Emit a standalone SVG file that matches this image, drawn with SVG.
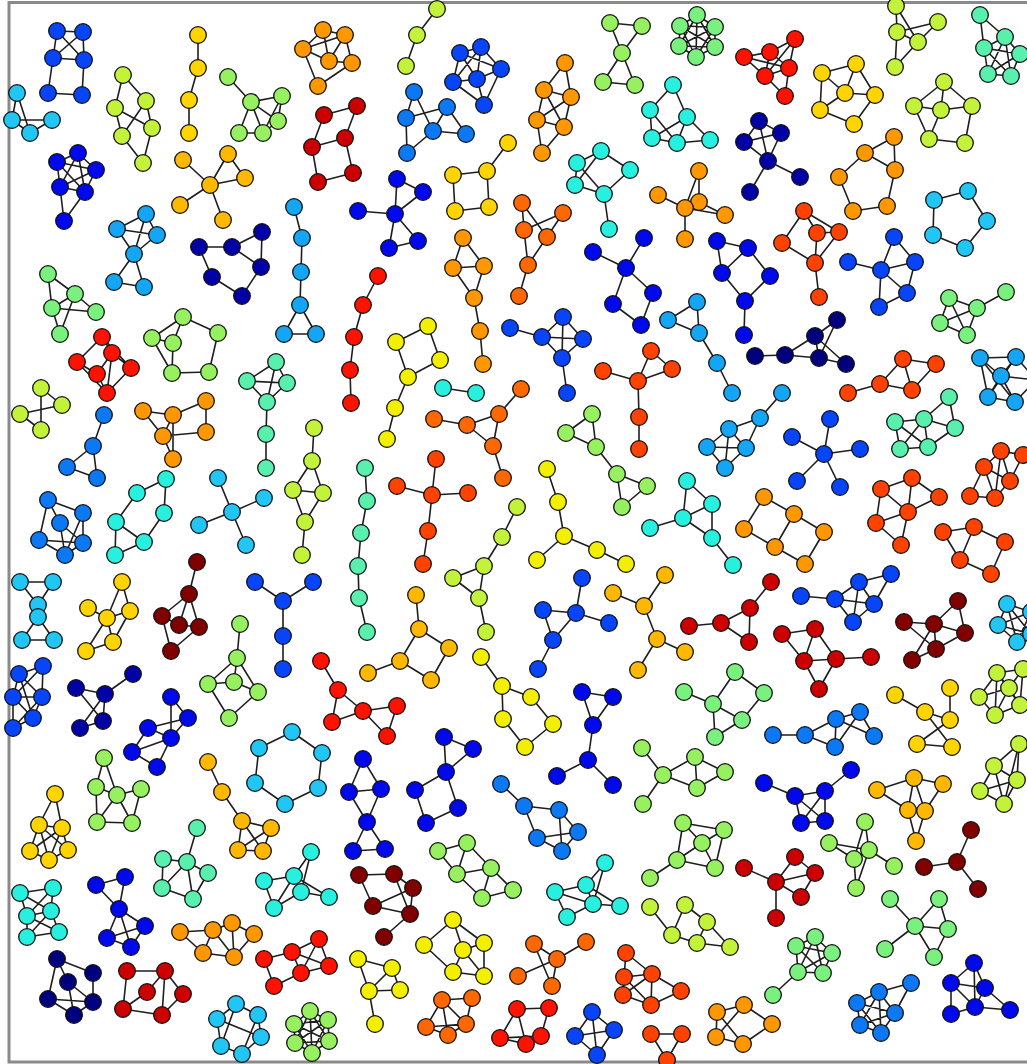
<svg xmlns="http://www.w3.org/2000/svg" width="1027" height="1064" viewBox="0 0 1027 1064">
<style>
.e path{stroke:#1e1e1e;stroke-width:1.6;fill:none;stroke-linecap:round;stroke-linejoin:round}
.n circle{stroke:#111;stroke-width:1.3}
.k0{fill:#00007e}.k1{fill:#0000a6}.k2{fill:#0008ec}.k3{fill:#0844f8}.k4{fill:#0c78f4}.k5{fill:#14a6f4}.k6{fill:#22c6f4}.k7{fill:#28f0de}.k8{fill:#58f0ac}.k9{fill:#7af07e}.k10{fill:#96f060}.k11{fill:#c2f23a}.k12{fill:#f2f000}.k13{fill:#ffd400}.k14{fill:#ffb800}.k15{fill:#ff9800}.k16{fill:#ff6800}.k17{fill:#ff4200}.k18{fill:#ff1200}.k19{fill:#cc0000}.k20{fill:#800000}
</style>
<rect width="1027" height="1064" fill="#fff"/>
<rect x="9" y="2.5" width="1040" height="1059.5" fill="none" stroke="#8a8a8a" stroke-width="3"/>
<g id="connectors" class="e">
<path d="M57 31L83 32M57 31L53 58M83 32L84 60M57 31L84 60M83 32L53 58M53 58L84 60M53 58L48 93M84 60L82 95M48 93L82 95"/>
<path d="M17 93L12 120M17 93L30 133M12 120L52 120M30 133L52 120M12 120L30 133"/>
<path d="M123 75L115 108M123 75L146 101M115 108L122 136M115 108L152 128M146 101L122 136M146 101L152 128M122 136L143 163M152 128L143 163"/>
<path d="M198 35L198 68L189 100L189 133"/>
<path d="M228 77L251 102L282 96M251 102L278 121M251 102L263 133M251 102L239 133M282 96L278 121L263 133L239 133M282 96L263 133"/>
<path d="M323 30L303 49M323 30L345 35M323 30L329 61M303 49L318 86M303 49L329 61M303 49L345 35M329 61L352 63M345 35L352 63M318 86L352 63M329 61L345 35"/>
<path d="M324 115L357 106M324 115L312 147M357 106L345 138M312 147L345 138M312 147L318 182M345 138L353 173M318 182L353 173"/>
<path d="M210 185L183 160M210 185L228 154M210 185L245 178M210 185L180 205M210 185L223 220M228 154L245 178"/>
<path d="M78 153L57 162M78 153L96 170M78 153L60 187M78 153L85 192M57 162L96 170M57 162L60 187M57 162L85 192M96 170L60 187M96 170L85 192M60 187L85 192M60 187L64 221M85 192L64 221"/>
<path d="M146 214L117 229M146 214L157 235M146 214L134 254M117 229L157 235M117 229L134 254M157 235L134 254M134 254L114 282M134 254L144 287M114 282L144 287"/>
<path d="M199 247L232 247L262 232L261 267M232 247L261 267M199 247L212 277L242 296L261 267"/>
<path d="M294 207L302 238L301 272L300 305L284 334L316 334L300 305"/>
<path d="M48 274L75 294M48 274L52 308M75 294L52 308M75 294L96 312M52 308L96 312M52 308L60 334M75 294L60 334"/>
<path d="M183 317L152 338M183 317L173 343M183 317L218 333M152 338L172 373M218 333L209 372M172 373L209 372M173 343L152 338M173 343L172 373"/>
<path d="M102 337L77 362M102 337L112 353M102 337L131 368M77 362L97 374M112 353L131 368M112 353L97 374M97 374L107 393M131 368L107 393M77 362L107 393M112 353L107 393"/>
<path d="M276 362L247 381M276 362L287 383M247 381L287 383M276 362L267 402M247 381L267 402M287 383L267 402M267 402L266 434L266 468"/>
<path d="M437 9L417 35L406 66"/>
<path d="M460 53L481 47M460 53L453 82M460 53L477 79M460 53L501 69M481 47L501 69M481 47L477 79M481 47L453 82M501 69L477 79M501 69L484 105M453 82L477 79M453 82L484 105M477 79L484 105"/>
<path d="M414 92L406 118M414 92L433 131M406 118L447 107M406 118L407 153M447 107L433 131M447 107L466 134M433 131L466 134M433 131L407 153"/>
<path d="M565 63L544 90M565 63L571 97M544 90L571 97M544 90L537 120M544 90L564 127M571 97L537 120M571 97L564 127M537 120L564 127M537 120L542 153M564 127L542 153"/>
<path d="M610 23L642 26L622 53L610 23M622 53L603 82L635 85L622 53"/>
<path d="M673 85L650 110M673 85L687 117M650 110L652 138M650 110L677 143M687 117L652 138M687 117L677 143M687 117L710 140M652 138L677 143M677 143L710 140"/>
<path d="M577 163L601 151L630 170L604 194L577 163M601 151L575 185L604 194L609 229M577 163L575 185"/>
<path d="M508 143L487 171L453 175L455 211L489 207L487 171"/>
<path d="M397 179L423 192L395 214L397 179M358 211L395 214L389 248L418 241L395 214"/>
<path d="M522 203L524 230M522 203L547 237M563 213L524 230M563 213L547 237M524 230L528 265M547 237L528 265L519 296"/>
<path d="M463 238L453 268L484 266L463 238M453 268L474 298L484 266M474 298L480 331L483 364"/>
<path d="M378 276L363 305L354 337L350 370L351 403"/>
<path d="M428 326L396 342L408 377L440 360L428 326M408 377L395 408L387 439"/>
<path d="M510 328L542 337L563 317L583 339L562 358L542 337M563 317L562 358M542 337L583 339M562 358L567 393"/>
<path d="M593 252L626 268L644 238M626 268L653 293L641 325L613 304L626 268"/>
<path d="M658 195L685 208L699 202L699 171L685 208L725 215L699 202M685 208L685 239"/>
<path d="M697 15L715 27M697 15L715 47M697 15L696 57M697 15L679 46M697 15L680 26M715 27L715 47M715 27L696 57M715 27L679 46M715 27L680 26M715 47L696 57M715 47L679 46M715 47L680 26M696 57L679 46M696 57L680 26M679 46L680 26"/>
<path d="M795 39L770 52M795 39L789 68M795 39L765 76M770 52L744 57M770 52L789 68M770 52L765 76M744 57L765 76M789 68L765 76M789 68L785 96M765 76L785 96M744 57L789 68"/>
<path d="M822 73L856 64L875 95L854 124L820 110L822 73M822 73L845 93M856 64L845 93M845 93L875 95M845 93L820 110"/>
<path d="M896 6L897 32M896 6L918 42M897 32L938 22L918 42L897 32L895 67L918 42"/>
<path d="M980 15L1005 37M980 15L984 48M1005 37L984 48M1005 37L1020 54M1005 37L988 74M1005 37L1011 76M984 48L1020 54M984 48L988 74M984 48L1011 76M1020 54L1011 76M1020 54L988 74M988 74L1011 76"/>
<path d="M944 82L914 106L941 110L944 82L972 106L941 110M914 106L929 139L941 110M972 106L965 143L929 139"/>
<path d="M759 121L744 142L781 133L759 121L768 161L744 142M781 133L768 161L800 177M768 161L750 192"/>
<path d="M894 137L865 153L895 170L894 137M865 153L839 177L853 211L887 206L895 170"/>
<path d="M968 191L934 200L933 235L965 248L987 221Z"/>
<path d="M804 211L782 243L815 263M804 211L817 233L839 232L804 211M817 233L815 263L839 232M815 263L819 297"/>
<path d="M717 241L748 248L722 273L717 241M748 248L770 276L745 301L722 273M745 301L744 335"/>
<path d="M894 237L881 270L848 262M894 237L915 262L881 270L907 293L915 262M881 270L879 307L907 293"/>
<path d="M1006 292L977 308L949 298L940 323L967 335L977 308L940 323M949 298L967 335"/>
<path d="M697 302L668 320L699 333L697 302M699 333L717 363L732 393"/>
<path d="M755 356L785 355L819 358L846 364L815 336L837 320L819 358L815 336L785 355"/>
<path d="M41 388L62 405L20 414L41 430L41 388"/>
<path d="M104 415L93 446L67 467L97 478L93 446"/>
<path d="M143 411L173 415L206 401L206 432L163 436L143 411M173 415L163 436L173 459L173 415"/>
<path d="M314 428L312 461L293 490L323 493L312 461M293 490L305 522L323 493M305 522L302 555"/>
<path d="M48 500L83 513L83 543L65 555L39 540L48 500L60 523L83 543M60 523L65 555M39 540L83 543M83 513L65 555"/>
<path d="M166 479L137 493L116 522L115 555L144 542L164 513L166 479M116 522L144 542"/>
<path d="M232 512L218 478M232 512L264 498M232 512L199 525M232 512L246 545"/>
<path d="M20 582L53 582L38 605L20 582M38 605L38 617L22 640L54 640L38 617"/>
<path d="M122 582L107 618L88 608M122 582L130 611L107 618L113 642L130 611M113 642L86 651L107 618"/>
<path d="M197 562L189 594L162 616L179 625L199 627L189 594L179 625M162 616L171 651L199 627"/>
<path d="M255 582L283 601L313 582M283 601L283 636L283 669"/>
<path d="M240 624L237 658L208 684L229 718L258 692L237 658L234 682L208 684M234 682L258 692"/>
<path d="M321 661L338 690L363 711L397 706L387 736L363 711L332 722L338 690"/>
<path d="M43 666L19 674L13 697L42 697L43 666L13 697M19 674L42 697M19 674L33 718L13 697M42 697L33 718L13 728L13 697M42 697L13 728"/>
<path d="M133 674L105 694L76 688L103 721L105 694L80 728L103 721"/>
<path d="M171 697L171 738L188 718L171 697M188 718L148 728L171 738L157 767L132 752L148 728M171 738L132 752"/>
<path d="M443 388L476 393"/>
<path d="M434 419L467 425L499 414L521 389M467 425L493 446L499 414M493 446L503 478"/>
<path d="M436 459L432 495L397 486M432 495L468 493M432 495L428 531L423 564"/>
<path d="M365 468L367 501L361 533L358 566L359 598L367 632"/>
<path d="M517 507L502 537L484 566L453 578L479 598L484 566M479 598L486 632"/>
<path d="M547 469L558 502L564 536L537 560M564 536L597 550L626 564"/>
<path d="M416 595L419 629L449 648L431 680L400 661L419 629M400 661L368 673"/>
<path d="M582 578L576 613L543 610L553 640L576 613L609 623M553 640L538 669"/>
<path d="M665 575L644 606L613 593M644 606L657 639L638 670M657 639L685 652"/>
<path d="M481 657L502 686L531 697L553 724L525 747L503 719L502 686"/>
<path d="M582 692L613 697L593 725L582 692M593 725L588 760L557 776M588 760L613 785"/>
<path d="M903 359L936 364L912 390L880 384L903 359L912 390M880 384L848 393"/>
<path d="M980 358L1016 357L1036 380L1015 402L988 397L980 358M980 358L1001 376M1016 357L1001 376M1001 376L988 397M1001 376L1015 402M1001 376L1036 380M980 358L1015 402M1016 357L988 397"/>
<path d="M782 393L760 418L729 429L707 447L725 468L746 448L760 418M729 429L746 448M729 429L725 468M707 447L746 448"/>
<path d="M824 454L830 419M824 454L792 437M824 454L860 449M824 454L797 481M824 454L840 487"/>
<path d="M949 397L924 419L895 422L900 449L928 447L955 428L949 397M924 419L955 428M924 419L900 449M924 419L928 447M895 422L928 447"/>
<path d="M1001 451L1023 455L1010 481L995 498L970 496L984 467L1001 451L1010 481L984 467L995 498M1001 451L995 498"/>
<path d="M687 481L712 504L712 538L683 518L687 481M712 504L683 518L650 528M712 538L733 565"/>
<path d="M764 497L744 529L775 547L805 564L824 532L794 514L764 497M794 514L775 547"/>
<path d="M912 478L881 489L876 523L901 545L908 512L912 478L939 497L908 512L881 489M908 512L876 523"/>
<path d="M943 532L974 527L1005 542L991 574L960 560L943 532M974 527L960 560"/>
<path d="M771 582L750 608L721 623L749 642L750 608M721 623L689 626"/>
<path d="M891 574L859 582L835 599L853 622L874 604L891 574M859 582L874 604M859 582L853 622M835 599L874 604M801 596L835 599"/>
<path d="M782 634L815 629L836 659L871 657M782 634L804 661L836 659L819 689L804 661M815 629L804 661"/>
<path d="M958 601L934 624L904 622L936 649L912 660L934 624L965 633L958 601M934 624L936 649L965 633"/>
<path d="M1007 604L998 625L1017 642L1031 634L1031 612L1007 604M1007 604L1017 642M1007 604L1031 634M998 625L1031 612M998 625L1031 634M1017 642L1031 612"/>
<path d="M735 672L713 704L684 692M735 672L764 693L742 720L715 737L713 704L742 720"/>
<path d="M895 695L925 712L952 747L917 744L950 720L950 688M925 712L950 720"/>
<path d="M997 673L1023 669M997 673L979 697M997 673L1009 688M997 673L995 715M1023 669L1009 688M1023 669L1020 705M979 697L1009 688M979 697L995 715M1009 688L1020 705M1009 688L995 715M1020 705L995 715M997 673L1020 705"/>
<path d="M292 732L322 753L318 788L285 804L255 783L259 748Z"/>
<path d="M104 758L96 787L97 822L132 823L141 789L117 795L104 758M96 787L117 795L97 822M117 795L132 823"/>
<path d="M55 794L39 825L62 828L55 794M39 825L30 851L49 860L68 850L62 828L30 851M39 825L49 860M39 825L68 850M62 828L49 860"/>
<path d="M208 762L222 792L242 821L271 828L263 851L238 850L242 821L263 851M271 828L238 850"/>
<path d="M197 828L187 862L163 859L162 888L193 899L208 873L187 862L162 888M187 862L193 899"/>
<path d="M311 852L294 876L264 881L274 908L301 892L329 897L294 876L274 908M311 852L301 892L294 876"/>
<path d="M20 893L53 888M20 893L27 916M20 893L51 911M53 888L27 916M53 888L51 911M27 916L51 911M27 916L27 937M27 916L59 932M51 911L27 937M51 911L59 932M27 937L59 932"/>
<path d="M96 885L125 877L119 909L96 885M119 909L145 926L131 947L107 938L119 909L131 947M107 938L145 926"/>
<path d="M180 932L213 930L232 923L254 934L234 957L203 953L180 932M213 930L203 953M213 930L234 957M232 923L234 957"/>
<path d="M319 939L292 952L264 959L274 986L301 973L329 966L319 939L301 973L292 952L329 966"/>
<path d="M57 959L93 973L93 1002L74 1015L48 999L57 959L68 982L74 1015M68 982L93 1002M48 999L93 1002"/>
<path d="M127 971L165 971L183 994L162 1015L123 1009L127 971M165 971L147 992L123 1009M165 971L162 1015"/>
<path d="M236 1004L258 1015L261 1037L242 1054L221 1046L217 1019L236 1004M236 1004L221 1046M258 1015L242 1054M217 1019L261 1037"/>
<path d="M310 1011L328 1020M310 1011L294 1024M310 1011L329 1041M310 1011L295 1043M310 1011L312 1053M328 1020L294 1024M328 1020L329 1041M328 1020L295 1043M328 1020L312 1053M294 1024L329 1041M294 1024L295 1043M294 1024L312 1053M329 1041L295 1043M329 1041L312 1053M295 1043L312 1053"/>
<path d="M642 748L663 775L643 804M663 775L695 757L725 772L697 788L663 775M695 757L697 788"/>
<path d="M363 759L349 792L381 789L363 759M349 792L367 822L381 789M367 822L353 851L385 849L367 822"/>
<path d="M444 737L473 749L446 772L444 737M446 772L415 790L426 823L458 808L446 772"/>
<path d="M501 784L524 806L559 810L578 832L562 851L537 838L524 806M559 810L562 851M537 838L578 832"/>
<path d="M438 851L467 843L491 868L513 890L482 898L457 874L438 851M467 843L457 874L491 868L482 898"/>
<path d="M359 875L394 874L413 888L410 914L384 937M359 875L373 906L413 888M394 874L410 914M373 906L410 914"/>
<path d="M605 863L586 885L555 892L567 917L593 904L620 906L586 885L593 904L605 863M555 892L593 904"/>
<path d="M453 920L424 945L453 972L484 976L484 943L453 920L463 950L484 943M463 950L453 972M463 950L484 976"/>
<path d="M358 959L392 968L400 990L369 991L358 959M392 968L369 991L375 1024"/>
<path d="M534 944L557 959L586 942M557 959L518 976M557 959L552 986M534 944L552 986"/>
<path d="M442 1000L472 998L466 1024L448 1035L426 1027L442 1000L466 1024L426 1027M442 1000L448 1035"/>
<path d="M517 1009L549 1008L541 1036L526 1044L500 1038L517 1009L526 1044M500 1038L541 1036"/>
<path d="M592 1012L614 1030L597 1055L575 1036L592 1012L597 1055M575 1036L614 1030"/>
<path d="M626 953L624 977L623 995L651 1005L681 991L652 974L626 953M624 977L652 974L651 1005M623 995L652 974M624 977L651 1005"/>
<path d="M651 1034L682 1034L667 1060Z"/>
<path d="M773 735L805 735L836 719L860 712L874 736L836 719L835 747L805 735M860 712L835 747"/>
<path d="M764 783L795 796L825 791L851 770M795 796L801 823L825 821L795 796M825 791L801 823M825 791L825 821"/>
<path d="M914 778L877 790L908 810L914 778L943 784L925 811L914 778M908 810L925 811L916 841L908 810"/>
<path d="M1019 744L994 766L980 791L1004 804L1017 780L1019 744M1019 744L1004 804M994 766L1017 780M994 766L1004 804M980 791L1017 780"/>
<path d="M683 823L724 830L715 868L677 860L683 823L702 843L724 830M702 843L715 868M702 843L677 860L650 878"/>
<path d="M650 907L672 935L697 943L730 947L707 922L685 905L672 935M707 922L697 943"/>
<path d="M744 868L776 882L795 857L815 873L801 897L776 882L815 873M776 882L776 918"/>
<path d="M865 822L869 850L894 866M865 822L854 859L829 843L869 850L854 859L856 888L869 850"/>
<path d="M971 830L957 862L924 867M957 862L978 889"/>
<path d="M890 899L915 926L939 899L948 929L934 957L915 926L885 949M915 926L948 929"/>
<path d="M815 937L796 946M815 937L832 953M815 937L798 972M815 937L823 973M796 946L832 953M796 946L798 972M796 946L823 973M832 953L798 972M832 953L823 973M798 972L823 973M798 972L773 995"/>
<path d="M717 1012L744 1005L772 1024L743 1044L716 1037L717 1012L743 1044M744 1005L716 1037"/>
<path d="M911 983L879 992M911 983L895 1013M879 992L857 1003M879 992L895 1013M879 992L860 1025M879 992L881 1033M857 1003L895 1013M857 1003L860 1025M857 1003L881 1033M895 1013L881 1033M895 1013L860 1025M860 1025L881 1033"/>
<path d="M974 963L951 983L985 988L974 963L975 1007L951 983L951 1014L975 1007L985 988L1010 1010L975 1007"/>
<path d="M592 414L566 433L596 447L592 414M596 447L617 474L647 486L622 507L617 474"/>
<path d="M603 371L638 381L651 351L672 369L638 381L639 417L639 449"/>
</g>
<g id="nodes" class="n">
<g id="g-A" class="k3"><circle cx="57" cy="31" r="8.3"/><circle cx="83" cy="32" r="8.3"/><circle cx="53" cy="58" r="8.3"/><circle cx="84" cy="60" r="8.3"/><circle cx="48" cy="93" r="8.3"/><circle cx="82" cy="95" r="8.3"/></g>
<g id="g-B" class="k6"><circle cx="17" cy="93" r="8.3"/><circle cx="12" cy="120" r="8.3"/><circle cx="30" cy="133" r="8.3"/><circle cx="52" cy="120" r="8.3"/></g>
<g id="g-C" class="k11"><circle cx="123" cy="75" r="8.3"/><circle cx="115" cy="108" r="8.3"/><circle cx="146" cy="101" r="8.3"/><circle cx="122" cy="136" r="8.3"/><circle cx="152" cy="128" r="8.3"/><circle cx="143" cy="163" r="8.3"/></g>
<g id="g-D" class="k13"><circle cx="198" cy="35" r="8.3"/><circle cx="198" cy="68" r="8.3"/><circle cx="189" cy="100" r="8.3"/><circle cx="189" cy="133" r="8.3"/></g>
<g id="g-E" class="k10"><circle cx="228" cy="77" r="8.3"/><circle cx="251" cy="102" r="8.3"/><circle cx="282" cy="96" r="8.3"/><circle cx="278" cy="121" r="8.3"/><circle cx="263" cy="133" r="8.3"/><circle cx="239" cy="133" r="8.3"/></g>
<g id="g-F" class="k15"><circle cx="323" cy="30" r="8.3"/><circle cx="303" cy="49" r="8.3"/><circle cx="329" cy="61" r="8.3"/><circle cx="318" cy="86" r="8.3"/><circle cx="345" cy="35" r="8.3"/><circle cx="352" cy="63" r="8.3"/></g>
<g id="g-G" class="k19"><circle cx="324" cy="115" r="8.3"/><circle cx="357" cy="106" r="8.3"/><circle cx="312" cy="147" r="8.3"/><circle cx="345" cy="138" r="8.3"/><circle cx="318" cy="182" r="8.3"/><circle cx="353" cy="173" r="8.3"/></g>
<g id="g-H" class="k14"><circle cx="210" cy="185" r="8.3"/><circle cx="183" cy="160" r="8.3"/><circle cx="228" cy="154" r="8.3"/><circle cx="245" cy="178" r="8.3"/><circle cx="180" cy="205" r="8.3"/><circle cx="223" cy="220" r="8.3"/></g>
<g id="g-I" class="k2"><circle cx="78" cy="153" r="8.3"/><circle cx="57" cy="162" r="8.3"/><circle cx="96" cy="170" r="8.3"/><circle cx="60" cy="187" r="8.3"/><circle cx="85" cy="192" r="8.3"/><circle cx="64" cy="221" r="8.3"/></g>
<g id="g-J" class="k5"><circle cx="146" cy="214" r="8.3"/><circle cx="117" cy="229" r="8.3"/><circle cx="157" cy="235" r="8.3"/><circle cx="134" cy="254" r="8.3"/><circle cx="114" cy="282" r="8.3"/><circle cx="144" cy="287" r="8.3"/></g>
<g id="g-K" class="k1"><circle cx="199" cy="247" r="8.3"/><circle cx="232" cy="247" r="8.3"/><circle cx="262" cy="232" r="8.3"/><circle cx="261" cy="267" r="8.3"/><circle cx="212" cy="277" r="8.3"/><circle cx="242" cy="296" r="8.3"/></g>
<g id="g-L" class="k5"><circle cx="294" cy="207" r="8.3"/><circle cx="302" cy="238" r="8.3"/><circle cx="301" cy="272" r="8.3"/><circle cx="300" cy="305" r="8.3"/><circle cx="284" cy="334" r="8.3"/><circle cx="316" cy="334" r="8.3"/></g>
<g id="g-M" class="k9"><circle cx="48" cy="274" r="8.3"/><circle cx="75" cy="294" r="8.3"/><circle cx="52" cy="308" r="8.3"/><circle cx="96" cy="312" r="8.3"/><circle cx="60" cy="334" r="8.3"/></g>
<g id="g-N" class="k10"><circle cx="183" cy="317" r="8.3"/><circle cx="152" cy="338" r="8.3"/><circle cx="173" cy="343" r="8.3"/><circle cx="218" cy="333" r="8.3"/><circle cx="172" cy="373" r="8.3"/><circle cx="209" cy="372" r="8.3"/></g>
<g id="g-O" class="k18"><circle cx="102" cy="337" r="8.3"/><circle cx="77" cy="362" r="8.3"/><circle cx="112" cy="353" r="8.3"/><circle cx="131" cy="368" r="8.3"/><circle cx="97" cy="374" r="8.3"/><circle cx="107" cy="393" r="8.3"/></g>
<g id="g-P" class="k8"><circle cx="276" cy="362" r="8.3"/><circle cx="247" cy="381" r="8.3"/><circle cx="287" cy="383" r="8.3"/><circle cx="267" cy="402" r="8.3"/><circle cx="266" cy="434" r="8.3"/><circle cx="266" cy="468" r="8.3"/></g>
<g id="g-Q" class="k11"><circle cx="437" cy="9" r="8.3"/><circle cx="417" cy="35" r="8.3"/><circle cx="406" cy="66" r="8.3"/></g>
<g id="g-R" class="k3"><circle cx="460" cy="53" r="8.3"/><circle cx="481" cy="47" r="8.3"/><circle cx="501" cy="69" r="8.3"/><circle cx="453" cy="82" r="8.3"/><circle cx="477" cy="79" r="8.3"/><circle cx="484" cy="105" r="8.3"/></g>
<g id="g-S" class="k4"><circle cx="414" cy="92" r="8.3"/><circle cx="406" cy="118" r="8.3"/><circle cx="447" cy="107" r="8.3"/><circle cx="433" cy="131" r="8.3"/><circle cx="466" cy="134" r="8.3"/><circle cx="407" cy="153" r="8.3"/></g>
<g id="g-T" class="k15"><circle cx="565" cy="63" r="8.3"/><circle cx="544" cy="90" r="8.3"/><circle cx="571" cy="97" r="8.3"/><circle cx="537" cy="120" r="8.3"/><circle cx="564" cy="127" r="8.3"/><circle cx="542" cy="153" r="8.3"/></g>
<g id="g-U" class="k10"><circle cx="610" cy="23" r="8.3"/><circle cx="642" cy="26" r="8.3"/><circle cx="622" cy="53" r="8.3"/><circle cx="603" cy="82" r="8.3"/><circle cx="635" cy="85" r="8.3"/></g>
<g id="g-V" class="k7"><circle cx="673" cy="85" r="8.3"/><circle cx="650" cy="110" r="8.3"/><circle cx="687" cy="117" r="8.3"/><circle cx="652" cy="138" r="8.3"/><circle cx="677" cy="143" r="8.3"/><circle cx="710" cy="140" r="8.3"/></g>
<g id="g-W" class="k7"><circle cx="577" cy="163" r="8.3"/><circle cx="601" cy="151" r="8.3"/><circle cx="630" cy="170" r="8.3"/><circle cx="575" cy="185" r="8.3"/><circle cx="604" cy="194" r="8.3"/><circle cx="609" cy="229" r="8.3"/></g>
<g id="g-X" class="k13"><circle cx="508" cy="143" r="8.3"/><circle cx="487" cy="171" r="8.3"/><circle cx="453" cy="175" r="8.3"/><circle cx="455" cy="211" r="8.3"/><circle cx="489" cy="207" r="8.3"/></g>
<g id="g-Y" class="k2"><circle cx="397" cy="179" r="8.3"/><circle cx="423" cy="192" r="8.3"/><circle cx="358" cy="211" r="8.3"/><circle cx="395" cy="214" r="8.3"/><circle cx="389" cy="248" r="8.3"/><circle cx="418" cy="241" r="8.3"/></g>
<g id="g-Z" class="k16"><circle cx="522" cy="203" r="8.3"/><circle cx="563" cy="213" r="8.3"/><circle cx="524" cy="230" r="8.3"/><circle cx="547" cy="237" r="8.3"/><circle cx="528" cy="265" r="8.3"/><circle cx="519" cy="296" r="8.3"/></g>
<g id="g-AA" class="k15"><circle cx="463" cy="238" r="8.3"/><circle cx="453" cy="268" r="8.3"/><circle cx="484" cy="266" r="8.3"/><circle cx="474" cy="298" r="8.3"/><circle cx="480" cy="331" r="8.3"/><circle cx="483" cy="364" r="8.3"/></g>
<g id="g-AB" class="k18"><circle cx="378" cy="276" r="8.3"/><circle cx="363" cy="305" r="8.3"/><circle cx="354" cy="337" r="8.3"/><circle cx="350" cy="370" r="8.3"/><circle cx="351" cy="403" r="8.3"/></g>
<g id="g-AC" class="k12"><circle cx="428" cy="326" r="8.3"/><circle cx="396" cy="342" r="8.3"/><circle cx="440" cy="360" r="8.3"/><circle cx="408" cy="377" r="8.3"/><circle cx="395" cy="408" r="8.3"/><circle cx="387" cy="439" r="8.3"/></g>
<g id="g-AD" class="k3"><circle cx="510" cy="328" r="8.3"/><circle cx="542" cy="337" r="8.3"/><circle cx="563" cy="317" r="8.3"/><circle cx="583" cy="339" r="8.3"/><circle cx="562" cy="358" r="8.3"/><circle cx="567" cy="393" r="8.3"/></g>
<g id="g-AE" class="k2"><circle cx="593" cy="252" r="8.3"/><circle cx="644" cy="238" r="8.3"/><circle cx="626" cy="268" r="8.3"/><circle cx="653" cy="293" r="8.3"/><circle cx="613" cy="304" r="8.3"/><circle cx="641" cy="325" r="8.3"/></g>
<g id="g-AF" class="k15"><circle cx="658" cy="195" r="8.3"/><circle cx="699" cy="171" r="8.3"/><circle cx="699" cy="202" r="8.3"/><circle cx="685" cy="208" r="8.3"/><circle cx="725" cy="215" r="8.3"/><circle cx="685" cy="239" r="8.3"/></g>
<g id="g-AG" class="k9"><circle cx="697" cy="15" r="8.3"/><circle cx="715" cy="27" r="8.3"/><circle cx="715" cy="47" r="8.3"/><circle cx="696" cy="57" r="8.3"/><circle cx="679" cy="46" r="8.3"/><circle cx="680" cy="26" r="8.3"/></g>
<g id="g-AH" class="k18"><circle cx="795" cy="39" r="8.3"/><circle cx="770" cy="52" r="8.3"/><circle cx="744" cy="57" r="8.3"/><circle cx="789" cy="68" r="8.3"/><circle cx="765" cy="76" r="8.3"/><circle cx="785" cy="96" r="8.3"/></g>
<g id="g-AI" class="k13"><circle cx="822" cy="73" r="8.3"/><circle cx="856" cy="64" r="8.3"/><circle cx="845" cy="93" r="8.3"/><circle cx="875" cy="95" r="8.3"/><circle cx="820" cy="110" r="8.3"/><circle cx="854" cy="124" r="8.3"/></g>
<g id="g-AJ" class="k11"><circle cx="896" cy="6" r="8.3"/><circle cx="897" cy="32" r="8.3"/><circle cx="938" cy="22" r="8.3"/><circle cx="918" cy="42" r="8.3"/><circle cx="895" cy="67" r="8.3"/></g>
<g id="g-AK" class="k8"><circle cx="980" cy="15" r="8.3"/><circle cx="1005" cy="37" r="8.3"/><circle cx="984" cy="48" r="8.3"/><circle cx="1020" cy="54" r="8.3"/><circle cx="988" cy="74" r="8.3"/><circle cx="1011" cy="76" r="8.3"/></g>
<g id="g-AL" class="k11"><circle cx="944" cy="82" r="8.3"/><circle cx="914" cy="106" r="8.3"/><circle cx="941" cy="110" r="8.3"/><circle cx="972" cy="106" r="8.3"/><circle cx="929" cy="139" r="8.3"/><circle cx="965" cy="143" r="8.3"/></g>
<g id="g-AM" class="k1"><circle cx="759" cy="121" r="8.3"/><circle cx="744" cy="142" r="8.3"/><circle cx="781" cy="133" r="8.3"/><circle cx="768" cy="161" r="8.3"/><circle cx="800" cy="177" r="8.3"/><circle cx="750" cy="192" r="8.3"/></g>
<g id="g-AN" class="k15"><circle cx="894" cy="137" r="8.3"/><circle cx="865" cy="153" r="8.3"/><circle cx="839" cy="177" r="8.3"/><circle cx="895" cy="170" r="8.3"/><circle cx="853" cy="211" r="8.3"/><circle cx="887" cy="206" r="8.3"/></g>
<g id="g-AO" class="k6"><circle cx="968" cy="191" r="8.3"/><circle cx="934" cy="200" r="8.3"/><circle cx="987" cy="221" r="8.3"/><circle cx="933" cy="235" r="8.3"/><circle cx="965" cy="248" r="8.3"/></g>
<g id="g-AP" class="k17"><circle cx="804" cy="211" r="8.3"/><circle cx="782" cy="243" r="8.3"/><circle cx="817" cy="233" r="8.3"/><circle cx="839" cy="232" r="8.3"/><circle cx="815" cy="263" r="8.3"/><circle cx="819" cy="297" r="8.3"/></g>
<g id="g-AQ" class="k2"><circle cx="717" cy="241" r="8.3"/><circle cx="748" cy="248" r="8.3"/><circle cx="722" cy="273" r="8.3"/><circle cx="770" cy="276" r="8.3"/><circle cx="745" cy="301" r="8.3"/><circle cx="744" cy="335" r="8.3"/></g>
<g id="g-AR" class="k3"><circle cx="894" cy="237" r="8.3"/><circle cx="848" cy="262" r="8.3"/><circle cx="881" cy="270" r="8.3"/><circle cx="915" cy="262" r="8.3"/><circle cx="907" cy="293" r="8.3"/><circle cx="879" cy="307" r="8.3"/></g>
<g id="g-AS" class="k9"><circle cx="1006" cy="292" r="8.3"/><circle cx="949" cy="298" r="8.3"/><circle cx="977" cy="308" r="8.3"/><circle cx="940" cy="323" r="8.3"/><circle cx="967" cy="335" r="8.3"/></g>
<g id="g-AT" class="k5"><circle cx="697" cy="302" r="8.3"/><circle cx="668" cy="320" r="8.3"/><circle cx="699" cy="333" r="8.3"/><circle cx="717" cy="363" r="8.3"/><circle cx="732" cy="393" r="8.3"/></g>
<g id="g-AU" class="k0"><circle cx="837" cy="320" r="8.3"/><circle cx="815" cy="336" r="8.3"/><circle cx="755" cy="356" r="8.3"/><circle cx="785" cy="355" r="8.3"/><circle cx="819" cy="358" r="8.3"/><circle cx="846" cy="364" r="8.3"/></g>
<g id="g-AV" class="k11"><circle cx="41" cy="388" r="8.3"/><circle cx="62" cy="405" r="8.3"/><circle cx="20" cy="414" r="8.3"/><circle cx="41" cy="430" r="8.3"/></g>
<g id="g-AW" class="k4"><circle cx="104" cy="415" r="8.3"/><circle cx="93" cy="446" r="8.3"/><circle cx="67" cy="467" r="8.3"/><circle cx="97" cy="478" r="8.3"/></g>
<g id="g-AX" class="k15"><circle cx="143" cy="411" r="8.3"/><circle cx="173" cy="415" r="8.3"/><circle cx="206" cy="401" r="8.3"/><circle cx="163" cy="436" r="8.3"/><circle cx="206" cy="432" r="8.3"/><circle cx="173" cy="459" r="8.3"/></g>
<g id="g-AZ" class="k11"><circle cx="314" cy="428" r="8.3"/><circle cx="312" cy="461" r="8.3"/><circle cx="293" cy="490" r="8.3"/><circle cx="323" cy="493" r="8.3"/><circle cx="305" cy="522" r="8.3"/><circle cx="302" cy="555" r="8.3"/></g>
<g id="g-BA" class="k4"><circle cx="48" cy="500" r="8.3"/><circle cx="83" cy="513" r="8.3"/><circle cx="60" cy="523" r="8.3"/><circle cx="39" cy="540" r="8.3"/><circle cx="83" cy="543" r="8.3"/><circle cx="65" cy="555" r="8.3"/></g>
<g id="g-BB" class="k7"><circle cx="166" cy="479" r="8.3"/><circle cx="137" cy="493" r="8.3"/><circle cx="164" cy="513" r="8.3"/><circle cx="116" cy="522" r="8.3"/><circle cx="144" cy="542" r="8.3"/><circle cx="115" cy="555" r="8.3"/></g>
<g id="g-BC" class="k6"><circle cx="218" cy="478" r="8.3"/><circle cx="264" cy="498" r="8.3"/><circle cx="232" cy="512" r="8.3"/><circle cx="199" cy="525" r="8.3"/><circle cx="246" cy="545" r="8.3"/></g>
<g id="g-BD" class="k6"><circle cx="20" cy="582" r="8.3"/><circle cx="53" cy="582" r="8.3"/><circle cx="38" cy="605" r="8.3"/><circle cx="38" cy="617" r="8.3"/><circle cx="22" cy="640" r="8.3"/><circle cx="54" cy="640" r="8.3"/></g>
<g id="g-BE" class="k13"><circle cx="122" cy="582" r="8.3"/><circle cx="88" cy="608" r="8.3"/><circle cx="107" cy="618" r="8.3"/><circle cx="130" cy="611" r="8.3"/><circle cx="113" cy="642" r="8.3"/><circle cx="86" cy="651" r="8.3"/></g>
<g id="g-BF" class="k20"><circle cx="197" cy="562" r="8.3"/><circle cx="189" cy="594" r="8.3"/><circle cx="162" cy="616" r="8.3"/><circle cx="179" cy="625" r="8.3"/><circle cx="199" cy="627" r="8.3"/><circle cx="171" cy="651" r="8.3"/></g>
<g id="g-BG" class="k3"><circle cx="255" cy="582" r="8.3"/><circle cx="313" cy="582" r="8.3"/><circle cx="283" cy="601" r="8.3"/><circle cx="283" cy="636" r="8.3"/><circle cx="283" cy="669" r="8.3"/></g>
<g id="g-BH" class="k10"><circle cx="240" cy="624" r="8.3"/><circle cx="237" cy="658" r="8.3"/><circle cx="208" cy="684" r="8.3"/><circle cx="234" cy="682" r="8.3"/><circle cx="258" cy="692" r="8.3"/><circle cx="229" cy="718" r="8.3"/></g>
<g id="g-BI" class="k18"><circle cx="321" cy="661" r="8.3"/><circle cx="338" cy="690" r="8.3"/><circle cx="363" cy="711" r="8.3"/><circle cx="397" cy="706" r="8.3"/><circle cx="332" cy="722" r="8.3"/><circle cx="387" cy="736" r="8.3"/></g>
<g id="g-BJ" class="k3"><circle cx="43" cy="666" r="8.3"/><circle cx="19" cy="674" r="8.3"/><circle cx="13" cy="697" r="8.3"/><circle cx="42" cy="697" r="8.3"/><circle cx="33" cy="718" r="8.3"/><circle cx="13" cy="728" r="8.3"/></g>
<g id="g-BK" class="k1"><circle cx="133" cy="674" r="8.3"/><circle cx="76" cy="688" r="8.3"/><circle cx="105" cy="694" r="8.3"/><circle cx="80" cy="728" r="8.3"/><circle cx="103" cy="721" r="8.3"/></g>
<g id="g-BL" class="k2"><circle cx="171" cy="697" r="8.3"/><circle cx="188" cy="718" r="8.3"/><circle cx="148" cy="728" r="8.3"/><circle cx="171" cy="738" r="8.3"/><circle cx="132" cy="752" r="8.3"/><circle cx="157" cy="767" r="8.3"/></g>
<g id="g-BM" class="k7"><circle cx="443" cy="388" r="8.3"/><circle cx="476" cy="393" r="8.3"/></g>
<g id="g-BN" class="k16"><circle cx="434" cy="419" r="8.3"/><circle cx="467" cy="425" r="8.3"/><circle cx="499" cy="414" r="8.3"/><circle cx="521" cy="389" r="8.3"/><circle cx="493" cy="446" r="8.3"/><circle cx="503" cy="478" r="8.3"/></g>
<g id="g-BP" class="k17"><circle cx="436" cy="459" r="8.3"/><circle cx="397" cy="486" r="8.3"/><circle cx="432" cy="495" r="8.3"/><circle cx="468" cy="493" r="8.3"/><circle cx="428" cy="531" r="8.3"/><circle cx="423" cy="564" r="8.3"/></g>
<g id="g-BQ" class="k8"><circle cx="365" cy="468" r="8.3"/><circle cx="367" cy="501" r="8.3"/><circle cx="361" cy="533" r="8.3"/><circle cx="358" cy="566" r="8.3"/><circle cx="359" cy="598" r="8.3"/><circle cx="367" cy="632" r="8.3"/></g>
<g id="g-BR" class="k11"><circle cx="517" cy="507" r="8.3"/><circle cx="502" cy="537" r="8.3"/><circle cx="484" cy="566" r="8.3"/><circle cx="453" cy="578" r="8.3"/><circle cx="479" cy="598" r="8.3"/><circle cx="486" cy="632" r="8.3"/></g>
<g id="g-BS" class="k12"><circle cx="547" cy="469" r="8.3"/><circle cx="558" cy="502" r="8.3"/><circle cx="564" cy="536" r="8.3"/><circle cx="537" cy="560" r="8.3"/><circle cx="597" cy="550" r="8.3"/><circle cx="626" cy="564" r="8.3"/></g>
<g id="g-BT" class="k14"><circle cx="416" cy="595" r="8.3"/><circle cx="419" cy="629" r="8.3"/><circle cx="449" cy="648" r="8.3"/><circle cx="400" cy="661" r="8.3"/><circle cx="368" cy="673" r="8.3"/><circle cx="431" cy="680" r="8.3"/></g>
<g id="g-BU" class="k3"><circle cx="582" cy="578" r="8.3"/><circle cx="543" cy="610" r="8.3"/><circle cx="576" cy="613" r="8.3"/><circle cx="609" cy="623" r="8.3"/><circle cx="553" cy="640" r="8.3"/><circle cx="538" cy="669" r="8.3"/></g>
<g id="g-BV" class="k14"><circle cx="665" cy="575" r="8.3"/><circle cx="613" cy="593" r="8.3"/><circle cx="644" cy="606" r="8.3"/><circle cx="657" cy="639" r="8.3"/><circle cx="638" cy="670" r="8.3"/><circle cx="685" cy="652" r="8.3"/></g>
<g id="g-BW" class="k12"><circle cx="481" cy="657" r="8.3"/><circle cx="502" cy="686" r="8.3"/><circle cx="531" cy="697" r="8.3"/><circle cx="503" cy="719" r="8.3"/><circle cx="553" cy="724" r="8.3"/><circle cx="525" cy="747" r="8.3"/></g>
<g id="g-BX" class="k2"><circle cx="582" cy="692" r="8.3"/><circle cx="613" cy="697" r="8.3"/><circle cx="593" cy="725" r="8.3"/><circle cx="588" cy="760" r="8.3"/><circle cx="557" cy="776" r="8.3"/><circle cx="613" cy="785" r="8.3"/></g>
<g id="g-BY" class="k17"><circle cx="903" cy="359" r="8.3"/><circle cx="936" cy="364" r="8.3"/><circle cx="880" cy="384" r="8.3"/><circle cx="912" cy="390" r="8.3"/><circle cx="848" cy="393" r="8.3"/></g>
<g id="g-BZ" class="k5"><circle cx="980" cy="358" r="8.3"/><circle cx="1016" cy="357" r="8.3"/><circle cx="1001" cy="376" r="8.3"/><circle cx="988" cy="397" r="8.3"/><circle cx="1015" cy="402" r="8.3"/><circle cx="1036" cy="380" r="8.3"/></g>
<g id="g-CA" class="k5"><circle cx="782" cy="393" r="8.3"/><circle cx="760" cy="418" r="8.3"/><circle cx="729" cy="429" r="8.3"/><circle cx="707" cy="447" r="8.3"/><circle cx="746" cy="448" r="8.3"/><circle cx="725" cy="468" r="8.3"/></g>
<g id="g-CB" class="k3"><circle cx="830" cy="419" r="8.3"/><circle cx="792" cy="437" r="8.3"/><circle cx="824" cy="454" r="8.3"/><circle cx="860" cy="449" r="8.3"/><circle cx="797" cy="481" r="8.3"/><circle cx="840" cy="487" r="8.3"/></g>
<g id="g-CC" class="k8"><circle cx="949" cy="397" r="8.3"/><circle cx="895" cy="422" r="8.3"/><circle cx="924" cy="419" r="8.3"/><circle cx="955" cy="428" r="8.3"/><circle cx="900" cy="449" r="8.3"/><circle cx="928" cy="447" r="8.3"/></g>
<g id="g-CD" class="k17"><circle cx="1001" cy="451" r="8.3"/><circle cx="1023" cy="455" r="8.3"/><circle cx="984" cy="467" r="8.3"/><circle cx="1010" cy="481" r="8.3"/><circle cx="970" cy="496" r="8.3"/><circle cx="995" cy="498" r="8.3"/></g>
<g id="g-CE" class="k7"><circle cx="687" cy="481" r="8.3"/><circle cx="712" cy="504" r="8.3"/><circle cx="683" cy="518" r="8.3"/><circle cx="650" cy="528" r="8.3"/><circle cx="712" cy="538" r="8.3"/><circle cx="733" cy="565" r="8.3"/></g>
<g id="g-CF" class="k15"><circle cx="764" cy="497" r="8.3"/><circle cx="744" cy="529" r="8.3"/><circle cx="794" cy="514" r="8.3"/><circle cx="824" cy="532" r="8.3"/><circle cx="775" cy="547" r="8.3"/><circle cx="805" cy="564" r="8.3"/></g>
<g id="g-CG" class="k17"><circle cx="912" cy="478" r="8.3"/><circle cx="881" cy="489" r="8.3"/><circle cx="939" cy="497" r="8.3"/><circle cx="908" cy="512" r="8.3"/><circle cx="876" cy="523" r="8.3"/><circle cx="901" cy="545" r="8.3"/></g>
<g id="g-CH" class="k17"><circle cx="943" cy="532" r="8.3"/><circle cx="974" cy="527" r="8.3"/><circle cx="1005" cy="542" r="8.3"/><circle cx="960" cy="560" r="8.3"/><circle cx="991" cy="574" r="8.3"/></g>
<g id="g-CI" class="k19"><circle cx="771" cy="582" r="8.3"/><circle cx="750" cy="608" r="8.3"/><circle cx="721" cy="623" r="8.3"/><circle cx="689" cy="626" r="8.3"/><circle cx="749" cy="642" r="8.3"/></g>
<g id="g-CJ" class="k3"><circle cx="891" cy="574" r="8.3"/><circle cx="859" cy="582" r="8.3"/><circle cx="801" cy="596" r="8.3"/><circle cx="835" cy="599" r="8.3"/><circle cx="874" cy="604" r="8.3"/><circle cx="853" cy="622" r="8.3"/></g>
<g id="g-CK" class="k19"><circle cx="782" cy="634" r="8.3"/><circle cx="815" cy="629" r="8.3"/><circle cx="804" cy="661" r="8.3"/><circle cx="836" cy="659" r="8.3"/><circle cx="871" cy="657" r="8.3"/><circle cx="819" cy="689" r="8.3"/></g>
<g id="g-CL" class="k20"><circle cx="958" cy="601" r="8.3"/><circle cx="904" cy="622" r="8.3"/><circle cx="934" cy="624" r="8.3"/><circle cx="965" cy="633" r="8.3"/><circle cx="936" cy="649" r="8.3"/><circle cx="912" cy="660" r="8.3"/></g>
<g id="g-CM" class="k6"><circle cx="1007" cy="604" r="8.3"/><circle cx="998" cy="625" r="8.3"/><circle cx="1017" cy="642" r="8.3"/><circle cx="1031" cy="612" r="8.3"/><circle cx="1031" cy="634" r="8.3"/></g>
<g id="g-CN" class="k9"><circle cx="735" cy="672" r="8.3"/><circle cx="684" cy="692" r="8.3"/><circle cx="764" cy="693" r="8.3"/><circle cx="713" cy="704" r="8.3"/><circle cx="742" cy="720" r="8.3"/><circle cx="715" cy="737" r="8.3"/></g>
<g id="g-CO" class="k13"><circle cx="895" cy="695" r="8.3"/><circle cx="950" cy="688" r="8.3"/><circle cx="925" cy="712" r="8.3"/><circle cx="950" cy="720" r="8.3"/><circle cx="917" cy="744" r="8.3"/><circle cx="952" cy="747" r="8.3"/></g>
<g id="g-CP" class="k11"><circle cx="997" cy="673" r="8.3"/><circle cx="1023" cy="669" r="8.3"/><circle cx="979" cy="697" r="8.3"/><circle cx="1009" cy="688" r="8.3"/><circle cx="1020" cy="705" r="8.3"/><circle cx="995" cy="715" r="8.3"/></g>
<g id="g-CQ" class="k6"><circle cx="292" cy="732" r="8.3"/><circle cx="322" cy="753" r="8.3"/><circle cx="318" cy="788" r="8.3"/><circle cx="285" cy="804" r="8.3"/><circle cx="255" cy="783" r="8.3"/><circle cx="259" cy="748" r="8.3"/></g>
<g id="g-CR" class="k10"><circle cx="104" cy="758" r="8.3"/><circle cx="96" cy="787" r="8.3"/><circle cx="117" cy="795" r="8.3"/><circle cx="141" cy="789" r="8.3"/><circle cx="97" cy="822" r="8.3"/><circle cx="132" cy="823" r="8.3"/></g>
<g id="g-CS" class="k13"><circle cx="55" cy="794" r="8.3"/><circle cx="39" cy="825" r="8.3"/><circle cx="62" cy="828" r="8.3"/><circle cx="30" cy="851" r="8.3"/><circle cx="49" cy="860" r="8.3"/><circle cx="68" cy="850" r="8.3"/></g>
<g id="g-CT" class="k14"><circle cx="208" cy="762" r="8.3"/><circle cx="222" cy="792" r="8.3"/><circle cx="242" cy="821" r="8.3"/><circle cx="271" cy="828" r="8.3"/><circle cx="238" cy="850" r="8.3"/><circle cx="263" cy="851" r="8.3"/></g>
<g id="g-CU" class="k8"><circle cx="197" cy="828" r="8.3"/><circle cx="163" cy="859" r="8.3"/><circle cx="187" cy="862" r="8.3"/><circle cx="208" cy="873" r="8.3"/><circle cx="162" cy="888" r="8.3"/><circle cx="193" cy="899" r="8.3"/></g>
<g id="g-CV" class="k7"><circle cx="311" cy="852" r="8.3"/><circle cx="264" cy="881" r="8.3"/><circle cx="294" cy="876" r="8.3"/><circle cx="301" cy="892" r="8.3"/><circle cx="329" cy="897" r="8.3"/><circle cx="274" cy="908" r="8.3"/></g>
<g id="g-CW" class="k7"><circle cx="20" cy="893" r="8.3"/><circle cx="53" cy="888" r="8.3"/><circle cx="27" cy="916" r="8.3"/><circle cx="51" cy="911" r="8.3"/><circle cx="27" cy="937" r="8.3"/><circle cx="59" cy="932" r="8.3"/></g>
<g id="g-CX" class="k2"><circle cx="96" cy="885" r="8.3"/><circle cx="125" cy="877" r="8.3"/><circle cx="119" cy="909" r="8.3"/><circle cx="145" cy="926" r="8.3"/><circle cx="107" cy="938" r="8.3"/><circle cx="131" cy="947" r="8.3"/></g>
<g id="g-CY" class="k15"><circle cx="180" cy="932" r="8.3"/><circle cx="213" cy="930" r="8.3"/><circle cx="232" cy="923" r="8.3"/><circle cx="254" cy="934" r="8.3"/><circle cx="203" cy="953" r="8.3"/><circle cx="234" cy="957" r="8.3"/></g>
<g id="g-CZ" class="k18"><circle cx="319" cy="939" r="8.3"/><circle cx="292" cy="952" r="8.3"/><circle cx="264" cy="959" r="8.3"/><circle cx="329" cy="966" r="8.3"/><circle cx="301" cy="973" r="8.3"/><circle cx="274" cy="986" r="8.3"/></g>
<g id="g-DA" class="k0"><circle cx="57" cy="959" r="8.3"/><circle cx="93" cy="973" r="8.3"/><circle cx="68" cy="982" r="8.3"/><circle cx="48" cy="999" r="8.3"/><circle cx="93" cy="1002" r="8.3"/><circle cx="74" cy="1015" r="8.3"/></g>
<g id="g-DB" class="k19"><circle cx="127" cy="971" r="8.3"/><circle cx="165" cy="971" r="8.3"/><circle cx="147" cy="992" r="8.3"/><circle cx="183" cy="994" r="8.3"/><circle cx="123" cy="1009" r="8.3"/><circle cx="162" cy="1015" r="8.3"/></g>
<g id="g-DC" class="k6"><circle cx="236" cy="1004" r="8.3"/><circle cx="258" cy="1015" r="8.3"/><circle cx="217" cy="1019" r="8.3"/><circle cx="261" cy="1037" r="8.3"/><circle cx="221" cy="1046" r="8.3"/><circle cx="242" cy="1054" r="8.3"/></g>
<g id="g-DD" class="k10"><circle cx="310" cy="1011" r="8.3"/><circle cx="328" cy="1020" r="8.3"/><circle cx="294" cy="1024" r="8.3"/><circle cx="329" cy="1041" r="8.3"/><circle cx="295" cy="1043" r="8.3"/><circle cx="312" cy="1053" r="8.3"/></g>
<g id="g-DE" class="k10"><circle cx="642" cy="748" r="8.3"/><circle cx="663" cy="775" r="8.3"/><circle cx="643" cy="804" r="8.3"/><circle cx="695" cy="757" r="8.3"/><circle cx="725" cy="772" r="8.3"/><circle cx="697" cy="788" r="8.3"/></g>
<g id="g-DF" class="k2"><circle cx="363" cy="759" r="8.3"/><circle cx="349" cy="792" r="8.3"/><circle cx="381" cy="789" r="8.3"/><circle cx="367" cy="822" r="8.3"/><circle cx="353" cy="851" r="8.3"/><circle cx="385" cy="849" r="8.3"/></g>
<g id="g-DG" class="k2"><circle cx="444" cy="737" r="8.3"/><circle cx="473" cy="749" r="8.3"/><circle cx="446" cy="772" r="8.3"/><circle cx="415" cy="790" r="8.3"/><circle cx="458" cy="808" r="8.3"/><circle cx="426" cy="823" r="8.3"/></g>
<g id="g-DH" class="k4"><circle cx="501" cy="784" r="8.3"/><circle cx="524" cy="806" r="8.3"/><circle cx="559" cy="810" r="8.3"/><circle cx="537" cy="838" r="8.3"/><circle cx="578" cy="832" r="8.3"/><circle cx="562" cy="851" r="8.3"/></g>
<g id="g-DI" class="k10"><circle cx="438" cy="851" r="8.3"/><circle cx="467" cy="843" r="8.3"/><circle cx="457" cy="874" r="8.3"/><circle cx="491" cy="868" r="8.3"/><circle cx="513" cy="890" r="8.3"/><circle cx="482" cy="898" r="8.3"/></g>
<g id="g-DJ" class="k20"><circle cx="359" cy="875" r="8.3"/><circle cx="394" cy="874" r="8.3"/><circle cx="413" cy="888" r="8.3"/><circle cx="373" cy="906" r="8.3"/><circle cx="410" cy="914" r="8.3"/><circle cx="384" cy="937" r="8.3"/></g>
<g id="g-DK" class="k7"><circle cx="605" cy="863" r="8.3"/><circle cx="586" cy="885" r="8.3"/><circle cx="555" cy="892" r="8.3"/><circle cx="593" cy="904" r="8.3"/><circle cx="620" cy="906" r="8.3"/><circle cx="567" cy="917" r="8.3"/></g>
<g id="g-DL" class="k12"><circle cx="453" cy="920" r="8.3"/><circle cx="424" cy="945" r="8.3"/><circle cx="463" cy="950" r="8.3"/><circle cx="484" cy="943" r="8.3"/><circle cx="453" cy="972" r="8.3"/><circle cx="484" cy="976" r="8.3"/></g>
<g id="g-DM" class="k12"><circle cx="358" cy="959" r="8.3"/><circle cx="392" cy="968" r="8.3"/><circle cx="369" cy="991" r="8.3"/><circle cx="400" cy="990" r="8.3"/><circle cx="375" cy="1024" r="8.3"/></g>
<g id="g-DN" class="k16"><circle cx="534" cy="944" r="8.3"/><circle cx="586" cy="942" r="8.3"/><circle cx="557" cy="959" r="8.3"/><circle cx="518" cy="976" r="8.3"/><circle cx="552" cy="986" r="8.3"/></g>
<g id="g-DO" class="k16"><circle cx="442" cy="1000" r="8.3"/><circle cx="472" cy="998" r="8.3"/><circle cx="466" cy="1024" r="8.3"/><circle cx="426" cy="1027" r="8.3"/><circle cx="448" cy="1035" r="8.3"/></g>
<g id="g-DP" class="k18"><circle cx="517" cy="1009" r="8.3"/><circle cx="549" cy="1008" r="8.3"/><circle cx="500" cy="1038" r="8.3"/><circle cx="526" cy="1044" r="8.3"/><circle cx="541" cy="1036" r="8.3"/></g>
<g id="g-DQ" class="k3"><circle cx="592" cy="1012" r="8.3"/><circle cx="614" cy="1030" r="8.3"/><circle cx="575" cy="1036" r="8.3"/><circle cx="597" cy="1055" r="8.3"/></g>
<g id="g-DR" class="k17"><circle cx="626" cy="953" r="8.3"/><circle cx="624" cy="977" r="8.3"/><circle cx="652" cy="974" r="8.3"/><circle cx="623" cy="995" r="8.3"/><circle cx="651" cy="1005" r="8.3"/><circle cx="681" cy="991" r="8.3"/></g>
<g id="g-DR2" class="k17"><circle cx="651" cy="1034" r="8.3"/><circle cx="682" cy="1034" r="8.3"/><circle cx="667" cy="1060" r="8.3"/></g>
<g id="g-DS" class="k4"><circle cx="773" cy="735" r="8.3"/><circle cx="805" cy="735" r="8.3"/><circle cx="836" cy="719" r="8.3"/><circle cx="860" cy="712" r="8.3"/><circle cx="874" cy="736" r="8.3"/><circle cx="835" cy="747" r="8.3"/></g>
<g id="g-DT" class="k2"><circle cx="764" cy="783" r="8.3"/><circle cx="851" cy="770" r="8.3"/><circle cx="795" cy="796" r="8.3"/><circle cx="825" cy="791" r="8.3"/><circle cx="801" cy="823" r="8.3"/><circle cx="825" cy="821" r="8.3"/></g>
<g id="g-DU" class="k14"><circle cx="914" cy="778" r="8.3"/><circle cx="877" cy="790" r="8.3"/><circle cx="943" cy="784" r="8.3"/><circle cx="908" cy="810" r="8.3"/><circle cx="925" cy="811" r="8.3"/><circle cx="916" cy="841" r="8.3"/></g>
<g id="g-DV" class="k11"><circle cx="1019" cy="744" r="8.3"/><circle cx="994" cy="766" r="8.3"/><circle cx="1017" cy="780" r="8.3"/><circle cx="980" cy="791" r="8.3"/><circle cx="1004" cy="804" r="8.3"/></g>
<g id="g-DW" class="k10"><circle cx="683" cy="823" r="8.3"/><circle cx="702" cy="843" r="8.3"/><circle cx="724" cy="830" r="8.3"/><circle cx="677" cy="860" r="8.3"/><circle cx="715" cy="868" r="8.3"/><circle cx="650" cy="878" r="8.3"/></g>
<g id="g-DX" class="k11"><circle cx="650" cy="907" r="8.3"/><circle cx="685" cy="905" r="8.3"/><circle cx="707" cy="922" r="8.3"/><circle cx="672" cy="935" r="8.3"/><circle cx="697" cy="943" r="8.3"/><circle cx="730" cy="947" r="8.3"/></g>
<g id="g-DY" class="k19"><circle cx="744" cy="868" r="8.3"/><circle cx="776" cy="882" r="8.3"/><circle cx="795" cy="857" r="8.3"/><circle cx="815" cy="873" r="8.3"/><circle cx="801" cy="897" r="8.3"/><circle cx="776" cy="918" r="8.3"/></g>
<g id="g-DZ" class="k10"><circle cx="865" cy="822" r="8.3"/><circle cx="829" cy="843" r="8.3"/><circle cx="869" cy="850" r="8.3"/><circle cx="854" cy="859" r="8.3"/><circle cx="894" cy="866" r="8.3"/><circle cx="856" cy="888" r="8.3"/></g>
<g id="g-EA" class="k20"><circle cx="971" cy="830" r="8.3"/><circle cx="924" cy="867" r="8.3"/><circle cx="957" cy="862" r="8.3"/><circle cx="978" cy="889" r="8.3"/></g>
<g id="g-EB" class="k9"><circle cx="890" cy="899" r="8.3"/><circle cx="939" cy="899" r="8.3"/><circle cx="915" cy="926" r="8.3"/><circle cx="948" cy="929" r="8.3"/><circle cx="885" cy="949" r="8.3"/><circle cx="934" cy="957" r="8.3"/></g>
<g id="g-EC" class="k9"><circle cx="815" cy="937" r="8.3"/><circle cx="796" cy="946" r="8.3"/><circle cx="832" cy="953" r="8.3"/><circle cx="798" cy="972" r="8.3"/><circle cx="823" cy="973" r="8.3"/><circle cx="773" cy="995" r="8.3"/></g>
<g id="g-ED" class="k15"><circle cx="717" cy="1012" r="8.3"/><circle cx="744" cy="1005" r="8.3"/><circle cx="772" cy="1024" r="8.3"/><circle cx="716" cy="1037" r="8.3"/><circle cx="743" cy="1044" r="8.3"/></g>
<g id="g-EE" class="k4"><circle cx="911" cy="983" r="8.3"/><circle cx="879" cy="992" r="8.3"/><circle cx="857" cy="1003" r="8.3"/><circle cx="895" cy="1013" r="8.3"/><circle cx="860" cy="1025" r="8.3"/><circle cx="881" cy="1033" r="8.3"/></g>
<g id="g-EF" class="k2"><circle cx="974" cy="963" r="8.3"/><circle cx="951" cy="983" r="8.3"/><circle cx="985" cy="988" r="8.3"/><circle cx="975" cy="1007" r="8.3"/><circle cx="1010" cy="1010" r="8.3"/><circle cx="951" cy="1014" r="8.3"/></g>
<g id="g-EG" class="k10"><circle cx="592" cy="414" r="8.3"/><circle cx="566" cy="433" r="8.3"/><circle cx="596" cy="447" r="8.3"/><circle cx="617" cy="474" r="8.3"/><circle cx="647" cy="486" r="8.3"/><circle cx="622" cy="507" r="8.3"/></g>
<g id="g-EH" class="k17"><circle cx="603" cy="371" r="8.3"/><circle cx="638" cy="381" r="8.3"/><circle cx="651" cy="351" r="8.3"/><circle cx="672" cy="369" r="8.3"/><circle cx="639" cy="417" r="8.3"/><circle cx="639" cy="449" r="8.3"/></g>
</g>
</svg>
